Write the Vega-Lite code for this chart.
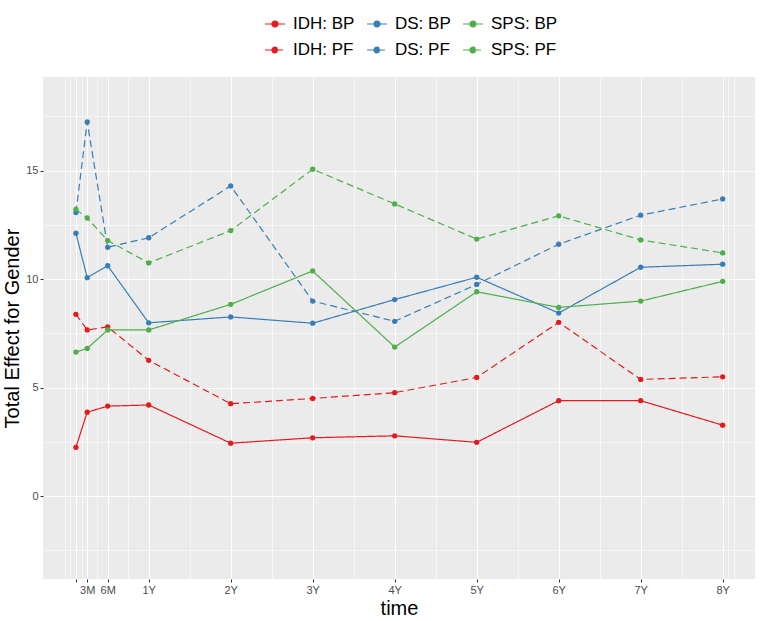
{
  "$schema": "https://vega.github.io/schema/vega-lite/v6.json",
  "width": 712,
  "height": 502,
  "autosize": {"type": "none"},
  "padding": {"left": 43, "top": 77, "right": 6, "bottom": 42},
  "background": "#FFFFFF",
  "config": {
    "font": "Liberation Sans",
    "view": {"stroke": null, "fill": "#EBEBEB"},
    "axis": {"domain": false, "labelFont": "Liberation Sans", "titleFont": "Liberation Sans"}
  },
  "data": {
    "values": [
      {"series": "IDH: BP", "time": 1.35, "value": 2.25},
      {"series": "IDH: BP", "time": 3, "value": 3.87},
      {"series": "IDH: BP", "time": 6, "value": 4.15},
      {"series": "IDH: BP", "time": 12, "value": 4.2},
      {"series": "IDH: BP", "time": 24, "value": 2.44},
      {"series": "IDH: BP", "time": 36, "value": 2.69},
      {"series": "IDH: BP", "time": 48, "value": 2.78},
      {"series": "IDH: BP", "time": 60, "value": 2.48},
      {"series": "IDH: BP", "time": 72, "value": 4.4},
      {"series": "IDH: BP", "time": 84, "value": 4.4},
      {"series": "IDH: BP", "time": 96, "value": 3.27},
      {"series": "IDH: PF", "time": 1.35, "value": 8.38},
      {"series": "IDH: PF", "time": 3, "value": 7.66},
      {"series": "IDH: PF", "time": 6, "value": 7.8},
      {"series": "IDH: PF", "time": 12, "value": 6.26},
      {"series": "IDH: PF", "time": 24, "value": 4.26},
      {"series": "IDH: PF", "time": 36, "value": 4.5},
      {"series": "IDH: PF", "time": 48, "value": 4.77},
      {"series": "IDH: PF", "time": 60, "value": 5.47},
      {"series": "IDH: PF", "time": 72, "value": 8.01},
      {"series": "IDH: PF", "time": 84, "value": 5.38},
      {"series": "IDH: PF", "time": 96, "value": 5.5},
      {"series": "DS: BP", "time": 1.35, "value": 12.12},
      {"series": "DS: BP", "time": 3, "value": 10.07},
      {"series": "DS: BP", "time": 6, "value": 10.62},
      {"series": "DS: BP", "time": 12, "value": 7.99},
      {"series": "DS: BP", "time": 24, "value": 8.26},
      {"series": "DS: BP", "time": 36, "value": 7.97},
      {"series": "DS: BP", "time": 48, "value": 9.06},
      {"series": "DS: BP", "time": 60, "value": 10.09},
      {"series": "DS: BP", "time": 72, "value": 8.44},
      {"series": "DS: BP", "time": 84, "value": 10.55},
      {"series": "DS: BP", "time": 96, "value": 10.69},
      {"series": "DS: PF", "time": 1.35, "value": 13.07},
      {"series": "DS: PF", "time": 3, "value": 17.25},
      {"series": "DS: PF", "time": 6, "value": 11.47},
      {"series": "DS: PF", "time": 12, "value": 11.91},
      {"series": "DS: PF", "time": 24, "value": 14.3},
      {"series": "DS: PF", "time": 36, "value": 8.99},
      {"series": "DS: PF", "time": 48, "value": 8.06},
      {"series": "DS: PF", "time": 60, "value": 9.76},
      {"series": "DS: PF", "time": 72, "value": 11.61},
      {"series": "DS: PF", "time": 84, "value": 12.95},
      {"series": "DS: PF", "time": 96, "value": 13.7},
      {"series": "SPS: BP", "time": 1.35, "value": 6.64},
      {"series": "SPS: BP", "time": 3, "value": 6.81},
      {"series": "SPS: BP", "time": 6, "value": 7.66},
      {"series": "SPS: BP", "time": 12, "value": 7.66},
      {"series": "SPS: BP", "time": 24, "value": 8.84},
      {"series": "SPS: BP", "time": 36, "value": 10.38},
      {"series": "SPS: BP", "time": 48, "value": 6.87},
      {"series": "SPS: BP", "time": 60, "value": 9.42},
      {"series": "SPS: BP", "time": 72, "value": 8.7},
      {"series": "SPS: BP", "time": 84, "value": 8.99},
      {"series": "SPS: BP", "time": 96, "value": 9.9},
      {"series": "SPS: PF", "time": 1.35, "value": 13.22},
      {"series": "SPS: PF", "time": 3, "value": 12.82},
      {"series": "SPS: PF", "time": 6, "value": 11.78},
      {"series": "SPS: PF", "time": 12, "value": 10.75},
      {"series": "SPS: PF", "time": 24, "value": 12.24},
      {"series": "SPS: PF", "time": 36, "value": 15.07},
      {"series": "SPS: PF", "time": 48, "value": 13.47},
      {"series": "SPS: PF", "time": 60, "value": 11.85},
      {"series": "SPS: PF", "time": 72, "value": 12.92},
      {"series": "SPS: PF", "time": 84, "value": 11.81},
      {"series": "SPS: PF", "time": 96, "value": 11.21}
    ]
  },
  "mark": {"type": "line", "strokeWidth": 1.2, "point": {"filled": true, "size": 28, "opacity": 1}},
  "encoding": {
    "x": {
      "field": "time", "type": "quantitative",
      "scale": {"domain": [-3.47, 100.73], "nice": false, "zero": false},
      "axis": {
        "title": "time", "titleFontSize": 20, "titleFontWeight": "normal", "titleColor": "#000000", "titlePadding": 3,
        "values": [-0.25, 0.53, 1.35, 2.2, 3, 4.5, 6, 9, 12, 18, 24, 30, 36, 42, 48, 54, 60, 66, 72, 78, 84, 90, 96, 96.8, 97.6],
        "labelExpr": "datum.value == 3 ? '3M' : datum.value == 6 ? '6M' : (datum.value > 0 && datum.value % 12 == 0) ? (datum.value / 12) + 'Y' : ''",
        "labelOverlap": false, "labelFlush": false,
        "labelFontSize": 11, "labelColor": "#4D4D4D", "labelPadding": 2,
        "tickColor": "#333333", "tickSize": 3, "tickWidth": 1.1,
        "tickOpacity": {"condition": {"test": "datum.value == 1.35 || datum.value == 3 || datum.value == 6 || datum.value % 12 == 0", "value": 1}, "value": 0},
        "gridColor": "#FFFFFF",
        "gridWidth": {"condition": {"test": "datum.value == 1.35 || datum.value == 3 || datum.value == 6 || datum.value % 12 == 0", "value": 1.1}, "value": 0.55}
      }
    },
    "y": {
      "field": "value", "type": "quantitative",
      "scale": {"domain": [-3.82, 19.32], "nice": false, "zero": false},
      "axis": {
        "title": "Total Effect for Gender", "titleFontSize": 20, "titleFontWeight": "normal", "titleColor": "#000000", "titlePadding": 3,
        "values": [-2.5, 0, 2.5, 5, 7.5, 10, 12.5, 15, 17.5],
        "labelExpr": "datum.value % 5 == 0 ? datum.label : ''",
        "labelOverlap": false, "labelFlush": false,
        "labelFontSize": 11, "labelColor": "#4D4D4D", "labelPadding": 2,
        "tickColor": "#333333", "tickSize": 3, "tickWidth": 1.1,
        "tickOpacity": {"condition": {"test": "datum.value % 5 == 0", "value": 1}, "value": 0},
        "gridColor": "#FFFFFF",
        "gridWidth": {"condition": {"test": "datum.value % 5 == 0", "value": 1.1}, "value": 0.55}
      }
    },
    "color": {
      "field": "series", "type": "nominal",
      "scale": {
        "domain": ["IDH: BP", "DS: BP", "SPS: BP", "IDH: PF", "DS: PF", "SPS: PF"],
        "range": ["#E41A1C", "#377EB8", "#4DAF4A", "#E41A1C", "#377EB8", "#4DAF4A"]
      },
      "legend": {
        "title": null,
        "orient": "none", "legendX": 221, "legendY": -64,
        "direction": "horizontal", "columns": 3,
        "columnPadding": 9, "rowPadding": 7,
        "symbolType": "M-1,0H1M-0.3,0A0.3,0.3,0,1,1,0.3,0A0.3,0.3,0,1,1,-0.3,0Z",
        "symbolSize": 400, "symbolStrokeWidth": 1.2,
        "labelFontSize": 17, "labelColor": "#000000", "labelOffset": 7, "labelFont": "Liberation Sans",
        "encode": {"symbols": {"update": {"fill": {"scale": "color", "field": "value"}}}}
      }
    },
    "strokeDash": {
      "field": "series", "type": "nominal",
      "scale": {
        "domain": ["IDH: BP", "DS: BP", "SPS: BP", "IDH: PF", "DS: PF", "SPS: PF"],
        "range": [[1, 0], [1, 0], [1, 0], [7, 4], [7, 4], [7, 4]]
      },
      "legend": {
        "title": null,
        "orient": "none", "legendX": 221, "legendY": -64,
        "direction": "horizontal", "columns": 3,
        "columnPadding": 9, "rowPadding": 7,
        "symbolType": "M-1,0H1M-0.3,0A0.3,0.3,0,1,1,0.3,0A0.3,0.3,0,1,1,-0.3,0Z",
        "symbolSize": 400, "symbolStrokeWidth": 1.2,
        "labelFontSize": 17, "labelColor": "#000000", "labelOffset": 7, "labelFont": "Liberation Sans",
        "encode": {"symbols": {"update": {"fill": {"scale": "color", "field": "value"}}}}
      }
    }
  }
}
